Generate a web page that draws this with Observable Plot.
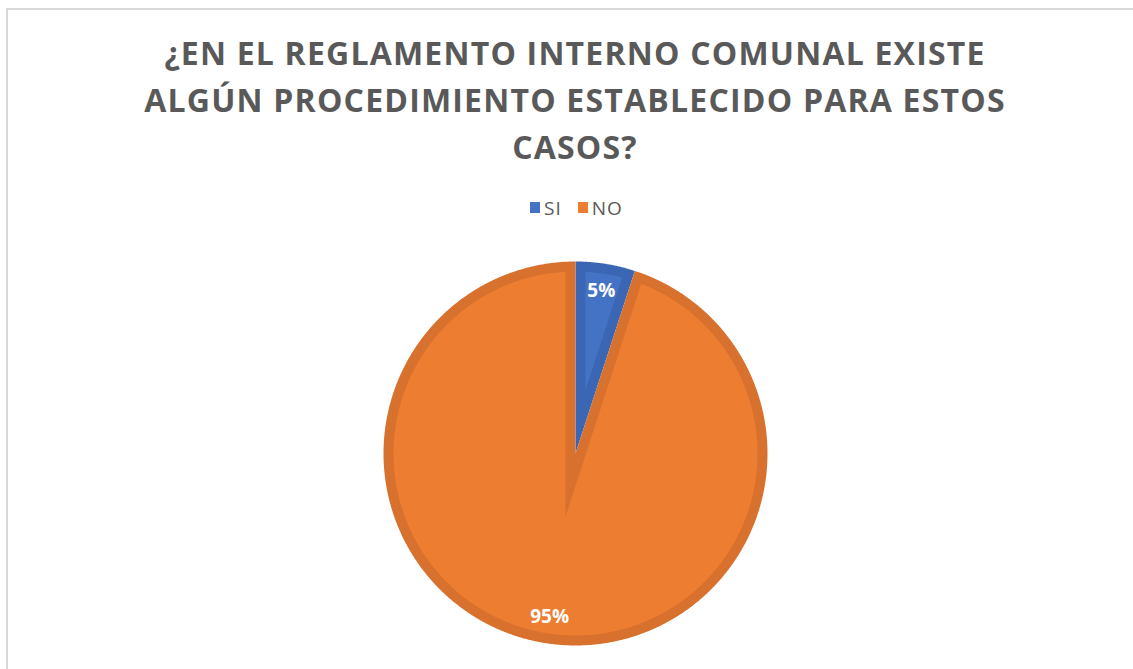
<!DOCTYPE html>
<html>
<head>
<meta charset="utf-8">
<script src="https://cdn.jsdelivr.net/npm/d3@7"></script>
<script src="https://cdn.jsdelivr.net/npm/@observablehq/plot@0.6"></script>
<style>
  html, body { margin: 0; padding: 0; background: #fff; }
  #page { position: relative; width: 1133px; height: 669px; overflow: hidden; font-family: "Open Sans", sans-serif; }
  #frame { position: absolute; left: 6px; top: 8px; width: 1300px; height: 800px; border: 2px solid #d9d9d9; box-sizing: border-box; }
  #title { position: absolute; left: 0; top: 29px; width: 1150px; text-align: center; color: #595959; font-weight: 700; font-size: 32px; line-height: 47px; letter-spacing: 1.2px; }
  #legend { position: absolute; left: 0; top: 193px; width: 1153px; text-align: center; color: #595959; font-size: 19px; letter-spacing: 1px; }
  #legend .item { display: inline-flex; align-items: center; margin: 0 8px; }
  #legend .sw { display: inline-block; width: 10px; height: 11px; margin-right: 4px; }
  #chart { position: absolute; left: 375px; top: 253px; }
</style>
</head>
<body>
<div id="page">
  <div id="frame"></div>
  <div id="title"></div>
  <div id="legend"></div>
  <div id="chart"></div>
</div>
<script>
// ---- data ----
const titleLines = ["¿EN EL REGLAMENTO INTERNO COMUNAL EXISTE", "ALGÚN PROCEDIMIENTO ESTABLECIDO PARA ESTOS", "CASOS?"];
const categories = ["SI", "NO"];
const values = [5, 95];
const labels = ["5%", "95%"];
const baseColors = ["#4472C4", "#ED7D31"];
const darkColors = ["#3B66B4", "#D8712D"];

// ---- title & legend ----
document.getElementById("title").innerHTML = titleLines.map(t => `<div>${t}</div>`).join("");
document.getElementById("legend").innerHTML = categories.map((c, i) =>
  `<span class="item"><span class="sw" style="background:${baseColors[i]}"></span>${c}</span>`).join("");

// ---- pie geometry (through Plot's x/y scales) ----
const R = 192, bevel = 10, step = Math.PI / 720;
const arcs = d3.pie().sort(null).value(d => d)(values);
const pts = [];
function pushArc(id, fill, r, a0, a1) {
  const n = Math.max(2, Math.ceil((a1 - a0) / step));
  for (let k = 0; k <= n; k++) {
    const a = a0 + (a1 - a0) * k / n;
    pts.push({id, fill, x: r * Math.sin(a), y: r * Math.cos(a)});
  }
}
arcs.forEach((a, i) => {
  const idD = "d" + i;
  pts.push({id: idD, fill: darkColors[i], x: 0, y: 0});
  pushArc(idD, darkColors[i], R, a.startAngle, a.endAngle);
  const idL = "l" + i;
  const theta = a.endAngle - a.startAngle;
  const m = (a.startAngle + a.endAngle) / 2;
  const s = bevel / Math.sin(theta / 2);
  const t = Math.sqrt((R - bevel) ** 2 - bevel ** 2);
  const dlt = Math.atan(bevel / t);
  pts.push({id: idL, fill: baseColors[i], x: s * Math.sin(m), y: s * Math.cos(m)});
  pushArc(idL, baseColors[i], R - bevel, a.startAngle + dlt, a.endAngle - dlt);
  pts.push({id: idL, fill: baseColors[i], x: s * Math.sin(m), y: s * Math.cos(m)});
});
const labelPts = arcs.map((a, i) => {
  const m = (a.startAngle + a.endAngle) / 2;
  return {text: labels[i], x: 0.86 * R * Math.sin(m), y: 0.86 * R * Math.cos(m)};
});

const plot = Plot.plot({
  width: 400, height: 400,
  margin: 0,
  x: {domain: [-200, 200], axis: null},
  y: {domain: [-200, 200], axis: null},
  color: {type: "identity"},
  style: {fontFamily: "Open Sans", background: "transparent"},
  marks: [
    Plot.line(pts, {x: "x", y: "y", z: "id", fill: "fill", stroke: "none", curve: "linear"}),
    Plot.text(labelPts, {x: "x", y: "y", text: "text", fill: "white", fontSize: 19, fontWeight: "bold"})
  ]
});
document.getElementById("chart").appendChild(plot);
</script>
</body>
</html>
